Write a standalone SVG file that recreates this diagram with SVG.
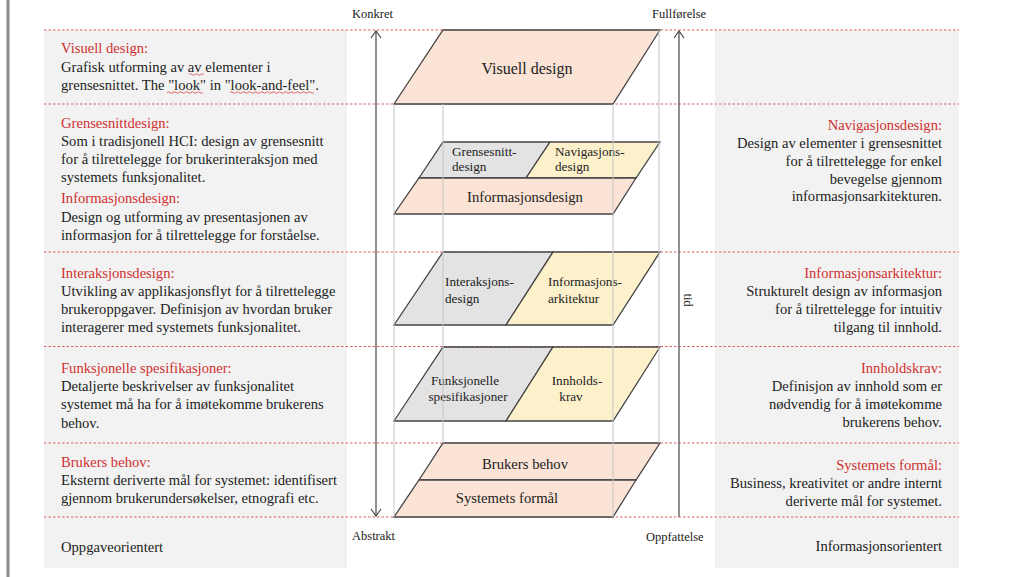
<svg xmlns="http://www.w3.org/2000/svg" width="1017" height="577" viewBox="0 0 1017 577">
<defs>
<marker id="open" viewBox="0 0 12 12" refX="11" refY="6" markerWidth="12" markerHeight="12" markerUnits="userSpaceOnUse" orient="auto-start-reverse">
<path d="M4,1 L11,6 L4,11" fill="none" stroke="#444" stroke-width="1.2"/>
</marker>
<style>
text{font-family:"Liberation Serif","Times New Roman",serif;fill:#222}
.p{font-size:14.6px}
.h{font-size:14.6px;fill:#d03030}
.r{text-anchor:end}
.s{font-size:12.5px}
.m{font-size:14.7px;text-anchor:middle}
.sm{font-size:13.2px}
.dash{stroke:#e06060;stroke-width:1.2;stroke-dasharray:2.5 2;fill:none}
.grid{stroke:#c8c8c8;stroke-width:1.5;opacity:0.7}
.peach{fill:#fbe3d6;stroke:#444;stroke-width:1.3}
.gray{fill:#e3e3e3;stroke:#444;stroke-width:1.3}
.yel{fill:#fdf1cc;stroke:#444;stroke-width:1.3}
.sq{fill:none;stroke:#e04040;stroke-width:0.8}
</style>
</defs>
<rect x="0" y="0" width="1017" height="577" fill="#fff"/>
<line x1="8" y1="0" x2="8" y2="577" stroke="#8c8c8c" stroke-width="3"/>
<rect x="44" y="30" width="303" height="538" fill="#f2f2f2"/>
<rect x="715" y="30" width="244" height="538" fill="#f2f2f2"/>
<g id="dashes">
<line class="dash" x1="44" y1="30" x2="959" y2="30"/>
<line class="dash" x1="44" y1="104" x2="959" y2="104"/>
<line class="dash" x1="44" y1="252" x2="959" y2="252"/>
<line class="dash" x1="44" y1="346.5" x2="959" y2="346.5"/>
<line class="dash" x1="44" y1="443" x2="959" y2="443"/>
<line class="dash" x1="44" y1="517" x2="959" y2="517"/>
</g>
<g id="left-panel">
<text class="h" x="61" y="53">Visuell design:</text>
<text class="p" x="61" y="72">Grafisk utforming av av elementer i</text>
<text class="p" x="61" y="90">grensesnittet. The "look" in "look-and-feel".</text>
<text class="h" x="61" y="128">Grensesnittdesign:</text>
<text class="p" x="61" y="146">Som i tradisjonell HCI: design av grensesnitt</text>
<text class="p" x="61" y="164">for å tilrettelegge for brukerinteraksjon med</text>
<text class="p" x="61" y="182">systemets funksjonalitet.</text>
<text class="h" x="61" y="203">Informasjonsdesign:</text>
<text class="p" x="61" y="222">Design og utforming av presentasjonen av</text>
<text class="p" x="61" y="240">informasjon for å tilrettelegge for forståelse.</text>
<text class="h" x="61" y="278">Interaksjonsdesign:</text>
<text class="p" x="61" y="296">Utvikling av applikasjonsflyt for å tilrettelegge</text>
<text class="p" x="61" y="314">brukeroppgaver. Definisjon av hvordan bruker</text>
<text class="p" x="61" y="332">interagerer med systemets funksjonalitet.</text>
<text class="h" x="61" y="373">Funksjonelle spesifikasjoner:</text>
<text class="p" x="61" y="391">Detaljerte beskrivelser av funksjonalitet</text>
<text class="p" x="61" y="409">systemet må ha for å imøtekomme brukerens</text>
<text class="p" x="61" y="428">behov.</text>
<text class="h" x="61" y="467">Brukers behov:</text>
<text class="p" x="61" y="485">Eksternt deriverte mål for systemet: identifisert</text>
<text class="p" x="61" y="503">gjennom brukerundersøkelser, etnografi etc.</text>
<text class="p" x="61" y="552">Oppgaveorientert</text>
<path class="sq" d="M189,74.5 q1.5,-1.5 3,0 t3,0 t3,0 t3,0 t3,0"/>
<path class="sq" d="M167,92.5 q1.5,-1.5 3,0 t3,0 t3,0 t3,0 t3,0 t3,0 t3,0 t3,0 t3,0 t3,0 t3,0 t3,0"/>
<path class="sq" d="M230,92.5 q1.5,-1.5 3,0 t3,0 t3,0 t3,0 t3,0 t3,0 t3,0 t3,0 t3,0 t3,0 t3,0 t3,0 t3,0 t3,0 t3,0 t3,0 t3,0 t3,0 t3,0 t3,0 t3,0 t3,0 t3,0 t3,0 t3,0 t3,0 t3,0 t3,0"/>
</g>
<g id="right-panel">
<text class="h r" x="942" y="130">Navigasjonsdesign:</text>
<text class="p r" x="942" y="148">Design av elementer i grensesnittet</text>
<text class="p r" x="942" y="166">for å tilrettelegge for enkel</text>
<text class="p r" x="942" y="184">bevegelse gjennom</text>
<text class="p r" x="942" y="201">informasjonsarkitekturen.</text>
<text class="h r" x="942" y="278">Informasjonsarkitektur:</text>
<text class="p r" x="942" y="296">Strukturelt design av informasjon</text>
<text class="p r" x="942" y="314">for å tilrettelegge for intuitiv</text>
<text class="p r" x="942" y="332">tilgang til innhold.</text>
<text class="h r" x="942" y="373">Innholdskrav:</text>
<text class="p r" x="942" y="391">Definisjon av innhold som er</text>
<text class="p r" x="942" y="409">nødvendig for å imøtekomme</text>
<text class="p r" x="942" y="427">brukerens behov.</text>
<text class="h r" x="942" y="470">Systemets formål:</text>
<text class="p r" x="942" y="488">Business, kreativitet or andre internt</text>
<text class="p r" x="942" y="506">deriverte mål for systemet.</text>
<text class="p r" x="942" y="551">Informasjonsorientert</text>
</g>
<g id="axis-labels">
<text class="s" x="352" y="18">Konkret</text>
<text class="s" x="652" y="18">Fullførelse</text>
<text class="s" x="352" y="540">Abstrakt</text>
<text class="s" x="646" y="541">Oppfattelse</text>
<text class="s" transform="translate(684,300) rotate(90)" text-anchor="middle">tid</text>
</g>
<g id="layer-visuell">
<polygon class="peach" points="443,30 660,30 613,104 394,104"/>
<text class="m" x="527" y="74" style="font-size:16px">Visuell design</text>
</g>
<g id="layer-grensesnitt">
<polygon class="gray" points="443,142 550,142 526,178 419,178"/>
<text class="sm" x="452" y="156">Grensesnitt-</text>
<text class="sm" x="452" y="171">design</text>
</g>
<g id="layer-navigasjon">
<polygon class="yel" points="550,142 660,142 636,178 526,178"/>
<text class="sm" x="555" y="156">Navigasjons-</text>
<text class="sm" x="555" y="171">design</text>
</g>
<g id="layer-informasjonsdesign">
<polygon class="peach" points="419,178 636,178 613,214 394,214"/>
<text class="m" x="525" y="202">Informasjonsdesign</text>
</g>
<g id="layer-interaksjon">
<polygon class="gray" points="443,252 553,252 506,325 394,325"/>
<text class="sm" x="445" y="286">Interaksjons-</text>
<text class="sm" x="445" y="303">design</text>
</g>
<g id="layer-infoarkitektur">
<polygon class="yel" points="553,252 660,252 613,325 506,325"/>
<text class="sm" x="548" y="286">Informasjons-</text>
<text class="sm" x="548" y="303">arkitektur</text>
</g>
<g id="layer-funksjonelle">
<polygon class="gray" points="443,347 553,347 506,421 394,421"/>
<text class="sm" x="465" y="385" text-anchor="middle">Funksjonelle</text>
<text class="sm" x="468" y="401" text-anchor="middle">spesifikasjoner</text>
</g>
<g id="layer-innholdskrav">
<polygon class="yel" points="553,347 660,347 613,421 506,421"/>
<text class="sm" x="577" y="385" text-anchor="middle">Innholds-</text>
<text class="sm" x="571" y="401" text-anchor="middle">krav</text>
</g>
<g id="layer-brukers-behov">
<polygon class="peach" points="443,443 660,443 636,480 419,480"/>
<text class="m" x="525" y="469">Brukers behov</text>
</g>
<g id="layer-systemets-formal">
<polygon class="peach" points="419,480 636,480 613,517 394,517"/>
<text class="m" x="507" y="503">Systemets formål</text>
</g>
<g id="guides">
<line class="grid" x1="394" y1="104" x2="394" y2="517"/>
<line class="grid" x1="443" y1="104" x2="443" y2="443"/>
<line class="grid" x1="613" y1="104" x2="613" y2="517"/>
<line class="grid" x1="659" y1="30" x2="659" y2="443"/>
</g>
<g id="connectors">
<line x1="376" y1="31" x2="376" y2="516" stroke="#555" stroke-width="1.3" marker-start="url(#open)" marker-end="url(#open)"/>
<line x1="679" y1="31" x2="679" y2="517" stroke="#555" stroke-width="1.3" marker-start="url(#open)"/>
</g>
</svg>
